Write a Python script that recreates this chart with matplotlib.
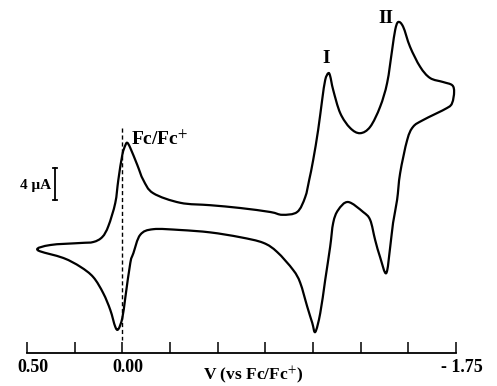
import numpy as np
import matplotlib
matplotlib.use('Agg')
import matplotlib.pyplot as plt
from matplotlib.path import Path
from matplotlib.patches import PathPatch
from matplotlib.transforms import ScaledTranslation

# Cyclic voltammogram, potential in V vs Fc/Fc+, current in uA
# forward (cathodic) sweep: from the left vertex to the right vertex
fwd_v = [0.445, 0.377, 0.220, 0.152, 0.105, 0.073, 0.037, 0.021, 0.000, -0.016,
         -0.026, -0.042, -0.079, -0.110, -0.162, -0.304, -0.461, -0.618, -0.776, -0.839,
         -0.917, -0.959, -0.980, -1.001, -1.027, -1.048, -1.064, -1.080, -1.090, -1.106,
         -1.143, -1.195, -1.247, -1.300, -1.352, -1.389, -1.415, -1.431, -1.447, -1.473,
         -1.509, -1.562, -1.614, -1.682, -1.730, -1.740]
fwd_i = [0.0, 0.625, 0.875, 1.0, 1.625, 3.0, 5.875, 8.75, 11.9, 13.1,
         13.4, 12.75, 10.6, 8.75, 7.1, 5.9, 5.6, 5.25, 4.75, 4.4,
         4.75, 6.6, 8.75, 11.25, 15.0, 18.75, 21.25, 22.1, 21.75, 20.0,
         17.1, 15.25, 14.6, 15.4, 17.9, 20.9, 25.0, 27.5, 28.5, 27.9,
         25.4, 22.9, 21.5, 21.0, 20.6, 19.75]

# reverse (anodic) sweep: back from the right vertex to the left vertex
rev_v = [-1.740, -1.730, -1.703, -1.578, -1.525, -1.494, -1.457, -1.441, -1.420, -1.405,
         -1.384, -1.352, -1.326, -1.300, -1.263, -1.184, -1.132, -1.106, -1.090, -1.064,
         -1.038, -1.012, -0.996, -0.970, -0.933, -0.896, -0.812, -0.739, -0.618,
         -0.461, -0.304, -0.162, -0.094, -0.058, -0.042, -0.016, 0.000, 0.021, 0.037,
         0.063, 0.100, 0.152, 0.220, 0.309, 0.445]
rev_i = [19.75, 18.4, 17.75, 16.25, 15.4, 13.75, 9.6, 6.25, 3.4, 0.4,
         -2.9, -0.9, 1.25, 3.75, 4.75, 6.0, 5.0, 3.4, 0.4, -3.75,
         -7.9, -10.25, -9.1, -7.1, -4.1, -2.5, -0.25, 0.9, 1.6,
         2.2, 2.5, 2.6, 1.9, -0.4, -1.6, -5.9, -8.5, -9.9, -9.6,
         -7.5, -5.4, -3.4, -2.1, -1.0, 0.0]

tick_pos = [0.50, 0.25, 0.00, -0.25, -0.50, -0.75, -1.00, -1.25, -1.50, -1.75]
tick_text = ['0.50', '', '0.00', '', '', '', '', '', '', '- 1.75']


def smooth_loop(xs, ys):
    # closed Catmull-Rom curve through the read points, as cubic Bezier segments
    p = np.column_stack([xs, ys])
    n = len(p)
    verts = [p[0]]
    codes = [Path.MOVETO]
    for k in range(n):
        p0, p1, p2, p3 = p[k - 1], p[k], p[(k + 1) % n], p[(k + 2) % n]
        verts += [p1 + (p2 - p0) / 6, p2 - (p3 - p1) / 6, p2]
        codes += [Path.CURVE4] * 3
    return Path(verts, codes)


plt.rcParams['font.family'] = ['Liberation Serif', 'DejaVu Serif']
plt.rcParams['mathtext.fontset'] = 'stix'

fig = plt.figure(figsize=(4.97, 3.86), dpi=100)
ax = fig.add_axes([0.0543, 0.0855, 0.8632, 0.9145])

loop_v = fwd_v + rev_v[1:-1]
loop_i = fwd_i + rev_i[1:-1]
ax.add_patch(PathPatch(smooth_loop(loop_v, loop_i), facecolor='none',
                       edgecolor='black', lw=1.6, joinstyle='round'))

# Fc/Fc+ reference line
ax.plot([0.0, 0.0], [15.25, -11.25], color='black', lw=1.0, ls=(0, (3, 2)))

# scale bar
ax.plot([0.351, 0.351], [6.25, 10.25], color='black', lw=1.3)
ax.plot([0.362, 0.340], [10.25, 10.25], color='black', lw=1.3)
ax.plot([0.362, 0.340], [6.25, 6.25], color='black', lw=1.3)
ax.text(0.372, 8.0, '4 \u03bcA', ha='right', va='center', fontsize=11, fontweight='bold')

ax.text(-0.045, 13.9, 'Fc/Fc$^{+}$', ha='left', va='center', fontsize=14, fontweight='bold')
ax.text(-1.069, 23.9, 'I', ha='center', va='center', fontsize=14, fontweight='bold')
ax.text(-1.380, 28.9, 'II', ha='center', va='center', fontsize=14, fontweight='bold')

ax.set_xlim(0.50, -1.75)
ax.set_ylim(-12.875, 31.25)

for s in ['top', 'left', 'right']:
    ax.spines[s].set_visible(False)
ax.spines['bottom'].set_linewidth(1.3)
ax.set_yticks([])
ax.set_xticks(tick_pos)
ax.set_xticklabels(tick_text, fontsize=13, fontweight='bold')
ax.tick_params(axis='x', direction='in', length=8, width=1.1, pad=4)
for lab in ax.get_xticklabels():
    lab.set_transform(lab.get_transform() + ScaledTranslation(6 / 100, 0, fig.dpi_scale_trans))

ax.set_xlabel('V (vs Fc/Fc$^{+}$)', fontsize=12.5, fontweight='bold')
ax.xaxis.set_label_coords(0.527, -0.064)
ax.xaxis.label.set_va('center')

fig.savefig('out.png', dpi=100)
